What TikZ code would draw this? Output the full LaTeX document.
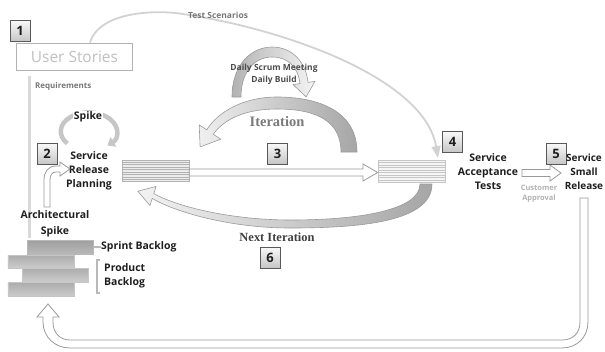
\documentclass[tikz,border=0pt]{standalone}
\usepackage{fontspec}
\setmainfont{Open Sans}
\newfontfamily\serifb{Liberation Serif}
\usetikzlibrary{arrows.meta}
\definecolor{txt}{HTML}{1E1E1E}
\definecolor{soft}{HTML}{777777}
\definecolor{edge}{HTML}{9A9A9A}
\begin{document}
\begin{tikzpicture}[x=1bp,y=-1bp,
  numbox/.style={draw=black!65, top color=gray!5, bottom color=gray!45, minimum width=20bp, minimum height=21bp, inner sep=0pt, font=\fontsize{13}{13}\selectfont\bfseries, text=txt},
  lbl/.style={font=\fontsize{10.5}{14}\selectfont\bfseries, align=center, text=txt, inner sep=0pt},
  small/.style={font=\fontsize{8}{10}\selectfont\bfseries, text=soft, inner sep=0pt, align=center},
  whitearrow/.style={fill=white, draw=edge, line width=0.8bp},
  bigarrow/.style={draw=edge, line width=0.6bp},
  stripes/.style={draw=gray!60, fill=gray!15, line width=0.5bp}
]
\useasboundingbox (0,0) rectangle (605,351);

% ---------- return arrow (bottom loop)
\path[whitearrow] (580,198) -- (588,198) -- (588,322) .. controls (588,337) and (577,348) .. (562,348)
  -- (70,348) .. controls (55,348) and (43,337) .. (43,322) -- (43,317) -- (37,317) -- (48,304) -- (59,317) -- (53,317) -- (53,322)
  .. controls (53,333) and (60,340) .. (70,340) -- (562,340) .. controls (573,340) and (580,333) .. (580,322) -- cycle;

% ---------- requirements line
\coordinate (rq1) at (29,76);
\coordinate (rq2) at (29,238);
\draw[line width=3bp, gray!30] (rq1) -- (rq2);

% ---------- user stories
\node[draw=gray!60, line width=1bp, minimum width=115bp, minimum height=27bp, inner sep=0pt,
  font=\fontsize{15.5}{16}\selectfont, text=gray!50] (us) at (74.5,56.5) {User Stories};
\node[numbox] (n1) at (20,31) {1};

% ---------- test scenarios
\draw[line width=1.8bp, gray!35, -{Triangle[width=9bp,length=12bp]}]
  (us.north -| 90,0) .. controls (100,10) and (160,10) .. (183,14) .. controls (290,30) and (425,80) .. (438,158);
\node[small, font=\fontsize{8.5}{10}\selectfont\bfseries] (ts) at (218,15) {Test Scenarios};
\node[small, anchor=west] (req) at (35,86) {Requirements};

% ---------- spike loop
\draw[line width=4.5bp, gray!45, -{Triangle[width=11bp,length=7bp]}]
  (67.3,143.6) arc[start angle=140, end angle=408, x radius=28, y radius=19];
\node[lbl, fill=white, inner sep=1pt] (spike) at (88,117) {Spike};
\node[numbox] (n2) at (47,154) {2};
\node[lbl] (srp) at (89,171) {Service\\Release\\Planning};

% ---------- architectural spike arrow
\path[whitearrow] (44,207) -- (44,180) .. controls (44,172) and (48,166) .. (56,166) -- (60,166) -- (60,162) -- (70,169)
  -- (60,176) -- (60,172) -- (56,172) .. controls (52,172) and (50,175) .. (50,180) -- (50,207) -- cycle;
\node[lbl, font=\fontsize{10.5}{16}\selectfont\bfseries] (as) at (55,224) {Architectural\\Spike};

% ---------- backlogs
\node[draw=gray!55, top color=gray!75, bottom color=gray!55, minimum width=66bp, minimum height=14bp, inner sep=0pt] (sb) at (60,247) {};
\node[draw=gray!45, top color=gray!65, bottom color=gray!40, minimum width=66bp, minimum height=13bp, inner sep=0pt] (pb1) at (41,261.5) {};
\node[draw=gray!45, top color=gray!65, bottom color=gray!40, minimum width=66bp, minimum height=14bp, inner sep=0pt] (pb2) at (55,275) {};
\node[draw=gray!45, top color=gray!65, bottom color=gray!40, minimum width=66bp, minimum height=14bp, inner sep=0pt] (pb3) at (41,289.5) {};
\node[lbl, anchor=west] (sbt) at (101,247) {Sprint Backlog};
\draw[line width=2bp, gray!55] (sb.east) -- (sbt.west);
\node[lbl, anchor=west, align=left] (pbt) at (104,276) {Product\\Backlog};
\draw[line width=1.5bp, gray!55] (100,260) -- (97,260) -- (97,293) -- (100,293);

% ---------- striped bars
\node[stripes, minimum width=67bp, minimum height=21bp, inner sep=0pt] (bar1) at (155.5,170.5) {};
\foreach \y in {162,164.5,...,180} \draw[gray!60, line width=0.6bp] (bar1.west |- 0,\y) -- (bar1.east |- 0,\y);
\node[stripes, fill=gray!8, draw=gray!45, minimum width=67bp, minimum height=22bp, inner sep=0pt] (bar2) at (411.5,171) {};
\foreach \y in {162.5,165,...,181} \draw[gray!45, line width=0.6bp] (bar2.west |- 0,\y) -- (bar2.east |- 0,\y);

% ---------- arrow 3
\path[whitearrow] (bar1.east |- 0,169) -- (363,169) -- (363,164) -- (bar2.west |- 0,172.5) -- (363,181) -- (363,176) -- (bar1.east |- 0,176) -- cycle;
\node[numbox] (n3) at (277.5,153.5) {3};

% ---------- iteration arrow
\path[bigarrow, left color=gray!12, right color=gray!70]
  (357,152) .. controls (357,112) and (320,97) .. (277,97) .. controls (243,97) and (218,112) .. (206.7,129.8)
  -- (199.2,124.9) -- (200.1,146.9) -- (220.8,139.2) -- (213.3,134.2)
  .. controls (225,118) and (247,109) .. (277,109) .. controls (318,109) and (341,122) .. (341,152) -- cycle;
\node[font=\serifb\fontsize{14.5}{14}\selectfont\bfseries, text=black!52] (it) at (277,122) {Iteration};

% ---------- daily scrum arrow
\path[bigarrow, left color=gray!60, right color=gray!8]
  (232,97) .. controls (232,64) and (252,47) .. (272,47) .. controls (292,47) and (306,62) .. (308,82.4)
  -- (314.9,81.4) -- (306.1,96.9) -- (293.1,84.6) -- (300,83.6)
  .. controls (298,67) and (288,57) .. (272,57) .. controls (256,57) and (241,70) .. (241,97) -- cycle;
\node[small, text=black!70, font=\fontsize{8.5}{12}\selectfont\bfseries] (ds) at (274,74) {Daily Scrum Meeting\\Daily Build};

% ---------- next iteration arrow
\path[bigarrow, left color=gray!10, right color=gray!70]
  (432,184) .. controls (432,222) and (360,228) .. (290,228) .. controls (230,228) and (175,212) .. (152.2,198.4)
  -- (150,205.5) -- (137.8,191.2) -- (156,186.5) -- (153.8,193.6)
  .. controls (180,208) and (235,220) .. (290,220) .. controls (360,220) and (420,210) .. (420,184) -- cycle;
\node[font=\serifb\fontsize{12.5}{13}\selectfont\bfseries, text=black!75] (ni) at (277,237) {Next Iteration};
\node[numbox] (n6) at (270,257.5) {6};

% ---------- acceptance
\node[numbox] (n4) at (452.5,142) {4};
\node[lbl] (sat) at (488,172) {Service\\Acceptance\\Tests};
\path[whitearrow] (522,169.5) -- (550,169.5) -- (550,165) -- (561,173) -- (550,181) -- (550,176.5) -- (522,176.5) -- cycle;
\node[small, font=\fontsize{7.5}{10}\selectfont\bfseries, text=gray!60] (ca) at (539,194) {Customer\\Approval};
\node[numbox] (n5) at (556,154) {5};
\node[lbl, font=\fontsize{10}{14}\selectfont\bfseries] (ssr) at (584,172) {Service\\Small\\Release};
\end{tikzpicture}
\end{document}
